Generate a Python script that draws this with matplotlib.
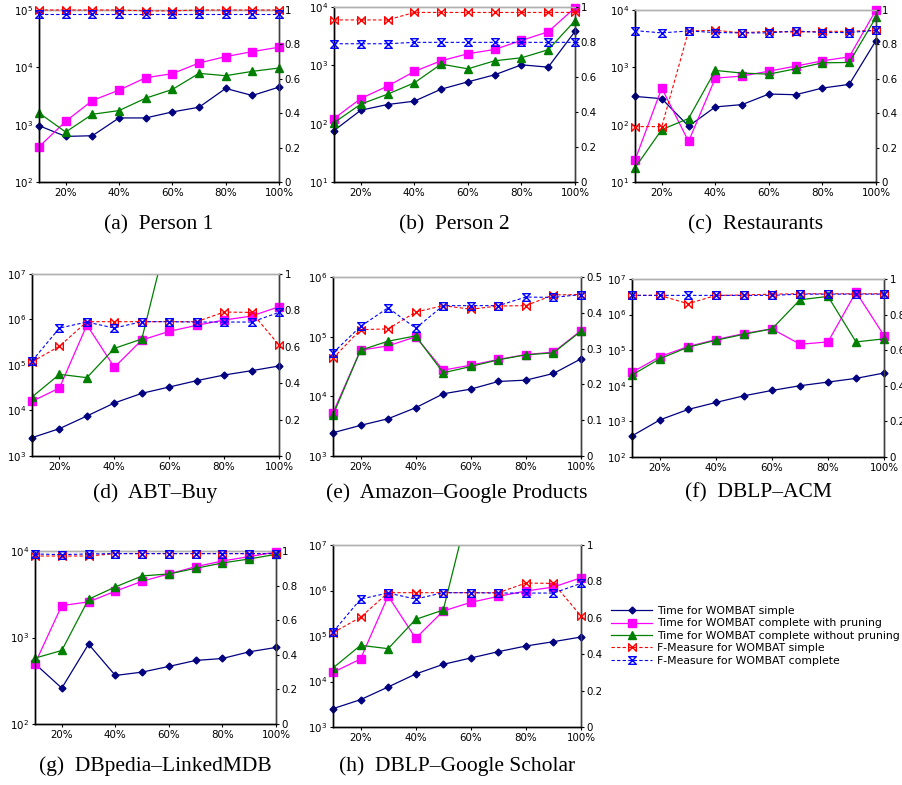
import matplotlib
matplotlib.use('Agg')
import matplotlib.pyplot as plt
from matplotlib.path import Path
import numpy as np

# training data size (%)
pct = [10, 20, 30, 40, 50, 60, 70, 80, 90, 100]

# (a) Person 1
p1_simple = [960, 624, 641, 1310, 1310, 1667, 2014, 4285, 3228, 4520]
p1_prune = [411, 1143, 2637, 4003, 6590, 7745, 11910, 15380, 18830, 22430]
p1_noprune = [1602, 743, 1518, 1760, 2897, 4110, 7850, 7145, 8510, 9730]
p1_f_simple = [1.0, 1.0, 1.0, 1.0, 0.995, 0.995, 1.0, 1.0, 1.0, 1.0]
p1_f_complete = [0.977] * 10

# (b) Person 2
p2_simple = [76, 170, 213, 243, 390, 521, 688, 1020, 931, 3815]
p2_prune = [122, 270, 440, 785, 1197, 1579, 1873, 2672, 3765, 9730]
p2_noprune = [104, 216, 320, 501, 1049, 871, 1197, 1347, 1849, 5820]
p2_f_simple = [0.926, 0.926, 0.926, 0.969, 0.969, 0.969, 0.969, 0.969, 0.969, 0.969]
p2_f_complete = [0.79, 0.79, 0.79, 0.798, 0.798, 0.798, 0.798, 0.798, 0.798, 0.798]

# (c) Restaurants
re_simple = [311, 284, 94, 204, 224, 342, 333, 435, 504, 2930]
re_prune = [24, 435, 51, 649, 703, 859, 1049, 1298, 1523, 10000]
re_noprune = [17.7, 82, 128, 883, 793, 762, 943, 1199, 1216, 7450]
re_f_simple = [0.322, 0.322, 0.878, 0.882, 0.867, 0.876, 0.871, 0.876, 0.876, 0.882]
re_f_complete = [0.88, 0.867, 0.878, 0.869, 0.867, 0.867, 0.878, 0.869, 0.869, 0.882]

# (d) ABT-Buy
ab_simple = [2529, 3990, 7570, 14620, 23840, 32830, 45270, 60260, 75000, 95000]
ab_prune = [15890, 31250, 757000, 88900, 354000, 549000, 745000, 975000, 1190000, 1910000]
ab_noprune = [19800, 62400, 52700, 232000, 372000, 1.0e8, 2.0e8, 3.5e8, 5.0e8, 8.0e8]
ab_f_simple = [0.518, 0.603, 0.738, 0.738, 0.738, 0.738, 0.738, 0.791, 0.789, 0.61]
ab_f_complete = [0.522, 0.703, 0.736, 0.703, 0.738, 0.738, 0.736, 0.736, 0.736, 0.789]

# (e) Amazon-Google Products
ag_simple = [2456, 3260, 4215, 6440, 11030, 13210, 17750, 18680, 24150, 42530]
ag_prune = [5310, 59400, 70200, 99300, 27480, 33330, 41440, 50230, 54950, 126700]
ag_noprune = [4855, 59400, 84000, 103000, 24780, 31640, 40900, 49600, 53600, 123500]
ag_f_simple = [0.273, 0.353, 0.355, 0.402, 0.42, 0.41, 0.419, 0.42, 0.45, 0.451]
ag_f_complete = [0.288, 0.362, 0.414, 0.357, 0.42, 0.42, 0.42, 0.444, 0.443, 0.451]

# (f) DBLP-ACM
da_simple = [391, 1105, 2160, 3406, 5250, 7410, 10050, 12740, 16170, 22860]
da_prune = [23880, 66060, 126500, 199000, 294000, 398000, 147000, 171000, 4300000, 258000]
da_noprune = [20080, 57940, 121000, 190500, 281000, 398000, 2610000, 3240000, 171000, 208000]
da_f_simple = [0.908, 0.908, 0.861, 0.908, 0.91, 0.915, 0.917, 0.917, 0.917, 0.917]
da_f_complete = [0.908, 0.908, 0.908, 0.908, 0.908, 0.908, 0.915, 0.915, 0.915, 0.915]

# (g) DBpedia-LinkedMDB
dl_simple = [497, 260, 838, 364, 398, 463, 543, 572, 683, 767]
dl_prune = [500, 2340, 2580, 3430, 4470, 5430, 6590, 7670, 8610, 9730]
dl_noprune = [578, 708, 2770, 3840, 5150, 5430, 6310, 7270, 8090, 9150]
dl_f_simple = [0.971, 0.971, 0.971, 0.985, 0.985, 0.985, 0.985, 0.985, 0.985, 0.985]
dl_f_complete = [0.983, 0.979, 0.983, 0.985, 0.985, 0.985, 0.985, 0.985, 0.985, 0.985]

# (h) DBLP-Google Scholar (same numbers as ABT-Buy in the original figure)
dg_simple = ab_simple
dg_prune = ab_prune
dg_noprune = ab_noprune
dg_f_simple = ab_f_simple
dg_f_complete = ab_f_complete

captions = ['(a)  Person 1', '(b)  Person 2', '(c)  Restaurants',
            '(d)  ABT\u2013Buy', '(e)  Amazon\u2013Google Products', '(f)  DBLP\u2013ACM',
            '(g)  DBpedia\u2013LinkedMDB', '(h)  DBLP\u2013Google Scholar']

panels = [
    (p1_simple, p1_prune, p1_noprune, p1_f_simple, p1_f_complete, (1e2, 1e5), 1.0),
    (p2_simple, p2_prune, p2_noprune, p2_f_simple, p2_f_complete, (1e1, 1e4), 1.0),
    (re_simple, re_prune, re_noprune, re_f_simple, re_f_complete, (1e1, 1e4), 1.0),
    (ab_simple, ab_prune, ab_noprune, ab_f_simple, ab_f_complete, (1e3, 1e7), 1.0),
    (ag_simple, ag_prune, ag_noprune, ag_f_simple, ag_f_complete, (1e3, 1e6), 0.5),
    (da_simple, da_prune, da_noprune, da_f_simple, da_f_complete, (1e2, 1e7), 1.0),
    (dl_simple, dl_prune, dl_noprune, dl_f_simple, dl_f_complete, (1e2, 1e4), 1.0),
    (dg_simple, dg_prune, dg_noprune, dg_f_simple, dg_f_complete, (1e3, 1e7), 1.0),
]

# axes boxes in pixels: left, right, top, bottom
boxes = [(39, 279, 10, 182), (334, 575, 7, 182), (635, 876, 10, 182),
         (32, 279, 274, 456), (333, 581, 277, 456), (632, 884, 279, 457),
         (35, 276, 551, 724), (333, 581, 545, 727)]
caption_y = [225, 225, 225, 493, 493, 493, 766, 766]

W, H = 903, 785

# bowtie and hourglass markers
bowtie = Path([(-1, 1), (1, -1), (1, 1), (-1, -1), (-1, 1)],
              [Path.MOVETO, Path.LINETO, Path.LINETO, Path.LINETO, Path.CLOSEPOLY])
hourglass = Path([(-1, 1), (1, 1), (-1, -1), (1, -1), (-1, 1)],
                 [Path.MOVETO, Path.LINETO, Path.LINETO, Path.LINETO, Path.CLOSEPOLY])

styles = [
    dict(color='#000080', marker='D', markersize=3.5, linestyle='-', lw=0.9),
    dict(color='#FF00FF', marker='s', markersize=6, linestyle='-', lw=0.9),
    dict(color='#008000', marker='^', markersize=6, linestyle='-', lw=0.9),
    dict(color='red', marker=bowtie, markersize=5.5, linestyle=(0, (3, 2)), lw=0.8,
         markerfacecolor='none', markeredgewidth=1.0),
    dict(color='blue', marker=hourglass, markersize=5.5, linestyle=(0, (3, 2)), lw=0.8,
         markerfacecolor='none', markeredgewidth=1.0),
]
labels = ['Time for WOMBAT simple', 'Time for WOMBAT complete with pruning',
          'Time for WOMBAT complete without pruning', 'F-Measure for WOMBAT simple',
          'F-Measure for WOMBAT complete']

fig = plt.figure(figsize=(W / 100, H / 100), dpi=100)

handles = []
for i, (s, p, n, fs, fc, ylim, fmax) in enumerate(panels):
    l, r, t, b = boxes[i]
    ax = fig.add_axes([l / W, 1 - b / H, (r - l) / W, (b - t) / H])
    ax2 = ax.twinx()
    hs = []
    for vals, st in zip([s, p, n], styles[:3]):
        clip = max(vals) > ylim[1]
        h, = ax.plot(pct, vals, clip_on=clip, zorder=3, **st)
        hs.append(h)
    for vals, st in zip([fs, fc], styles[3:]):
        h, = ax2.plot(pct, vals, clip_on=False, zorder=3, **st)
        hs.append(h)
    handles = hs

    ax.set_yscale('log')
    ax.set_ylim(*ylim)
    ax.yaxis.set_minor_locator(plt.NullLocator())
    ax.set_xlim(10, 100)
    ax.set_xticks([20, 40, 60, 80, 100])
    ax.set_xticklabels(['20%', '40%', '60%', '80%', '100%'])
    ax2.set_ylim(0, fmax)
    if fmax == 1.0:
        ax2.set_yticks([0, 0.2, 0.4, 0.6, 0.8, 1.0])
        ax2.set_yticklabels(['0', '0.2', '0.4', '0.6', '0.8', '1'])
    else:
        ax2.set_yticks([0, 0.1, 0.2, 0.3, 0.4, 0.5])
        ax2.set_yticklabels(['0', '0.1', '0.2', '0.3', '0.4', '0.5'])

    for a in (ax, ax2):
        a.tick_params(labelsize=7.4, length=2.5, width=0.8, pad=1.5)
        a.spines['left'].set_color('black')
        a.spines['bottom'].set_color('black')
        a.spines['top'].set_color('#b0b0b0')
        a.spines['right'].set_color('#404040')
        for sp in a.spines.values():
            sp.set_linewidth(1.0)

    fig.text((l + r) / 2 / W, 1 - caption_y[i] / H, captions[i],
             ha='center', va='center', fontsize=15.5, family='Liberation Serif')

fig.legend(handles, labels, loc='upper left', bbox_to_anchor=(611 / W, 1 - 606 / H),
           frameon=False, fontsize=7.8, handlelength=3.8, handletextpad=0.45,
           labelspacing=0.22, borderaxespad=0, borderpad=0)

fig.savefig('out.png', dpi=100)
